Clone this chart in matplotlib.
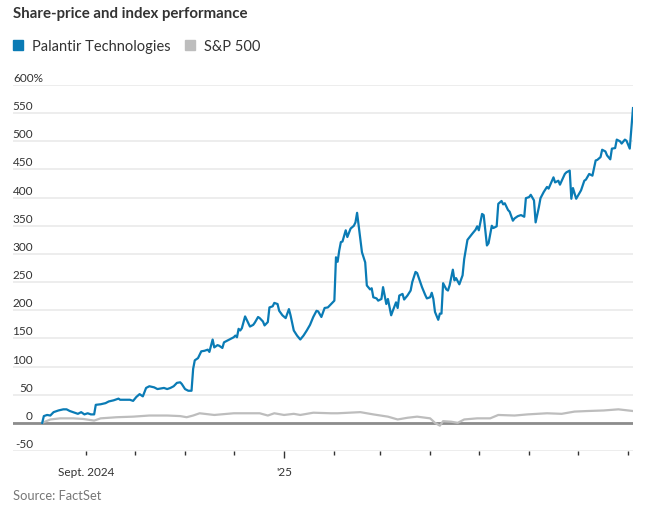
# Share-price and index performance: Palantir vs S&P 500
import pandas as pd
import matplotlib
matplotlib.use('Agg')
import matplotlib.pyplot as plt
from matplotlib.patches import Patch

# Constants here
BLUE = '#0a7bb5'
GREY = '#bdbdbd'
TEXT = '#333333'
FONT = 'Lato'

PLTR_DATES = [
    '2024-08-05', '2024-08-06', '2024-08-08', '2024-08-10', '2024-08-12',
    '2024-08-15', '2024-08-18', '2024-08-20', '2024-08-22', '2024-08-25',
    '2024-08-27', '2024-08-29', '2024-08-31', '2024-09-02', '2024-09-04',
    '2024-09-06', '2024-09-07', '2024-09-10', '2024-09-13', '2024-09-15',
    '2024-09-18', '2024-09-21', '2024-09-22', '2024-09-25', '2024-09-28',
    '2024-09-30', '2024-10-02', '2024-10-04', '2024-10-06', '2024-10-08',
    '2024-10-10', '2024-10-13', '2024-10-15', '2024-10-19', '2024-10-21',
    '2024-10-23', '2024-10-25', '2024-10-27', '2024-10-29', '2024-10-30',
    '2024-11-01', '2024-11-03', '2024-11-05', '2024-11-06', '2024-11-07',
    '2024-11-09', '2024-11-11', '2024-11-13', '2024-11-15', '2024-11-16',
    '2024-11-18', '2024-11-19', '2024-11-21', '2024-11-22', '2024-11-24',
    '2024-11-25', '2024-11-27', '2024-11-29', '2024-12-01', '2024-12-02',
    '2024-12-03', '2024-12-04', '2024-12-05', '2024-12-06', '2024-12-08',
    '2024-12-10', '2024-12-11', '2024-12-13', '2024-12-14', '2024-12-16',
    '2024-12-17', '2024-12-19', '2024-12-20', '2024-12-22', '2024-12-23',
    '2024-12-25', '2024-12-26', '2024-12-28', '2024-12-29', '2024-12-31',
    '2025-01-02', '2025-01-03', '2025-01-04', '2025-01-05', '2025-01-07',
    '2025-01-09', '2025-01-11', '2025-01-13', '2025-01-15', '2025-01-17',
    '2025-01-19', '2025-01-21', '2025-01-22', '2025-01-24', '2025-01-26',
    '2025-01-28', '2025-01-30', '2025-02-01', '2025-02-02', '2025-02-03',
    '2025-02-04', '2025-02-05', '2025-02-06', '2025-02-08', '2025-02-09',
    '2025-02-11', '2025-02-13', '2025-02-14', '2025-02-15', '2025-02-17',
    '2025-02-18', '2025-02-20', '2025-02-21', '2025-02-23', '2025-02-24',
    '2025-02-25', '2025-02-27', '2025-02-28', '2025-03-02', '2025-03-03',
    '2025-03-05', '2025-03-06', '2025-03-08', '2025-03-09', '2025-03-11',
    '2025-03-12', '2025-03-13', '2025-03-15', '2025-03-16', '2025-03-18',
    '2025-03-20', '2025-03-21', '2025-03-23', '2025-03-24', '2025-03-26',
    '2025-03-27', '2025-03-29', '2025-03-30', '2025-04-01', '2025-04-02',
    '2025-04-03', '2025-04-04', '2025-04-06', '2025-04-07', '2025-04-08',
    '2025-04-09', '2025-04-11', '2025-04-12', '2025-04-13', '2025-04-15',
    '2025-04-16', '2025-04-17', '2025-04-19', '2025-04-21', '2025-04-22',
    '2025-04-24', '2025-04-27', '2025-04-29', '2025-04-30', '2025-05-01',
    '2025-05-03', '2025-05-04', '2025-05-06', '2025-05-07', '2025-05-09',
    '2025-05-10', '2025-05-12', '2025-05-13', '2025-05-15', '2025-05-16',
    '2025-05-17', '2025-05-19', '2025-05-20', '2025-05-22', '2025-05-23',
    '2025-05-25', '2025-05-27', '2025-05-29', '2025-05-30', '2025-06-01',
    '2025-06-02', '2025-06-04', '2025-06-05', '2025-06-07', '2025-06-08',
    '2025-06-10', '2025-06-12', '2025-06-13', '2025-06-16', '2025-06-17',
    '2025-06-19', '2025-06-20', '2025-06-23', '2025-06-24', '2025-06-26',
    '2025-06-27', '2025-06-28', '2025-06-30', '2025-07-01', '2025-07-03',
    '2025-07-05', '2025-07-06', '2025-07-08', '2025-07-10', '2025-07-12',
    '2025-07-13', '2025-07-15', '2025-07-16', '2025-07-18', '2025-07-19',
    '2025-07-21', '2025-07-22', '2025-07-24', '2025-07-25', '2025-07-27',
    '2025-07-28', '2025-07-30', '2025-07-31', '2025-08-02', '2025-08-03',
    '2025-08-04',
]

PLTR_VALUES = [
    0, 12, 14, 13, 19,
    22, 24, 24, 21, 18,
    16, 19, 15, 17, 15,
    15, 32, 33, 35, 38,
    40, 43, 41, 41, 41,
    39, 46, 51, 47, 62,
    65, 63, 60, 62, 60,
    62, 65, 71, 72, 69,
    60, 57, 57, 96, 111,
    115, 127, 128, 130, 126,
    148, 134, 138, 137, 133,
    143, 146, 149, 152, 155,
    152, 167, 164, 168, 189,
    177, 171, 174, 178, 188,
    186, 180, 173, 179, 205,
    207, 213, 211, 199, 191,
    186, 194, 202, 191, 164,
    155, 148, 155, 164, 174,
    188, 199, 198, 188, 204,
    205, 211, 217, 294, 286,
    306, 321, 322, 342, 330,
    345, 350, 356, 373, 327,
    303, 285, 244, 237, 239,
    223, 221, 217, 220, 241,
    211, 220, 191, 199, 214,
    204, 226, 229, 219, 226,
    235, 250, 268, 266, 249,
    241, 227, 221, 223, 231,
    220, 197, 183, 194, 194,
    248, 237, 235, 244, 272,
    253, 257, 246, 262, 291,
    325, 336, 343, 349, 342,
    371, 369, 315, 319, 350,
    346, 349, 389, 394, 388,
    390, 378, 375, 359, 363,
    367, 369, 366, 399, 401,
    405, 395, 356, 383, 399,
    410, 419, 416, 436, 427,
    430, 423, 442, 445, 448,
    398, 417, 398, 403, 413,
    430, 432, 442, 439, 466,
    467, 472, 485, 482, 475,
    468, 487, 488, 503, 500,
    496, 503, 501, 487, 522,
    559,
]

SPX_DATES = [
    '2024-08-05', '2024-08-10', '2024-08-16', '2024-08-24', '2024-08-30',
    '2024-09-06', '2024-09-10', '2024-09-20', '2024-09-30', '2024-10-10',
    '2024-10-21', '2024-10-29', '2024-11-02', '2024-11-06', '2024-11-10',
    '2024-11-19', '2024-12-01', '2024-12-09', '2024-12-17', '2024-12-22',
    '2024-12-26', '2025-01-01', '2025-01-07', '2025-01-11', '2025-01-19',
    '2025-01-30', '2025-02-03', '2025-02-17', '2025-02-25', '2025-03-06',
    '2025-03-12', '2025-03-18', '2025-03-24', '2025-04-01', '2025-04-04',
    '2025-04-07', '2025-04-09', '2025-04-14', '2025-04-18', '2025-04-22',
    '2025-04-30', '2025-05-08', '2025-05-13', '2025-05-23', '2025-05-31',
    '2025-06-12', '2025-06-21', '2025-06-29', '2025-07-07', '2025-07-17',
    '2025-07-26', '2025-08-01', '2025-08-04',
]

SPX_VALUES = [
    0, 6, 8, 8, 7,
    4, 8, 10, 11, 13,
    13, 12, 10, 13, 17,
    14, 17, 17, 17, 13,
    17, 14, 16, 14, 18,
    17, 17, 19, 15, 11,
    6, 9, 11, 8, 0,
    -5, 3, 2, 0, 6,
    8, 8, 14, 13, 15,
    17, 16, 20, 21, 22,
    24, 22, 21,
]

Y_TICKS = list(range(-50, 601, 50))
MONTHS = pd.date_range('2024-09-01', '2025-08-01', freq='MS')


def plot_performance():
    '''
    Draws the Palantir and S&P 500 cumulative change lines and saves out.png.
    '''
    plt.rcParams['font.family'] = [FONT, 'DejaVu Sans']
    fig = plt.figure(figsize=(6.47, 5.10), dpi=100)
    ax = fig.add_axes([13 / 647, 58 / 510, 620 / 647, 366 / 510])

    pltr_dates = pd.to_datetime(PLTR_DATES)
    spx_dates = pd.to_datetime(SPX_DATES)

    ax.axhline(0, color='#8c8c8c', lw=2, zorder=2)
    ax.plot(spx_dates, SPX_VALUES, color=GREY, lw=1.6, zorder=3)
    ax.plot(pltr_dates, PLTR_VALUES, color=BLUE, lw=1.6, zorder=4)

    ax.set_ylim(-50, 600)
    ax.set_xlim(pd.Timestamp('2024-07-18'), pltr_dates[-1])
    for side in ['top', 'right', 'left', 'bottom']:
        ax.spines[side].set_visible(False)

    ax.set_yticks(Y_TICKS)
    ax.yaxis.grid(True, color='#ececec', lw=1.3)
    ax.set_axisbelow(True)
    ax.tick_params(axis='y', length=0, labelleft=False)
    for val in Y_TICKS:
        if val == 600:
            ax.annotate('600%', xy=(0, val),
                        xycoords=ax.get_yaxis_transform(),
                        xytext=(0, 2), textcoords='offset pixels',
                        ha='left', va='bottom', fontsize=8.5, color=TEXT)
        else:
            ax.annotate(str(val), xy=(0, val),
                        xycoords=ax.get_yaxis_transform(),
                        xytext=(20, 2), textcoords='offset pixels',
                        ha='right', va='bottom', fontsize=8.5, color=TEXT)

    # month ticks, longer tick at the year change
    minor = [m for m in MONTHS if m.month != 1]
    ax.set_xticks([pd.Timestamp('2025-01-01')])
    ax.set_xticklabels(["'25"])
    ax.set_xticks(minor, minor=True)
    ax.set_xticklabels(['Sept. 2024' if m.month == 9 else '' for m in minor],
                       minor=True)
    ax.tick_params(axis='x', which='major', length=5, width=1, color=TEXT,
                   labelsize=8.5, labelcolor=TEXT, pad=6)
    ax.tick_params(axis='x', which='minor', length=3, width=1, color=TEXT,
                   labelsize=8.5, labelcolor=TEXT, pad=8)

    fig.text(13 / 647, 1 - 14 / 510, 'Share-price and index performance',
             fontsize=10.8, fontweight='bold', color=TEXT, va='center')

    handles = [Patch(color=BLUE), Patch(color=GREY)]
    fig.legend(handles, ['Palantir Technologies', 'S&P 500'],
               loc='center left', bbox_to_anchor=(13 / 647, 1 - 47 / 510),
               ncol=2, frameon=False, fontsize=10.5, handlelength=0.7,
               handleheight=0.7, handletextpad=0.6, columnspacing=1.0,
               borderpad=0, borderaxespad=0, labelcolor=TEXT)

    fig.text(13 / 647, 1 - 496 / 510, 'Source: FactSet', fontsize=9.3,
             color='#777777', va='center')

    fig.savefig('out.png', dpi=100)


def main():
    plot_performance()


if __name__ == "__main__":
    main()
